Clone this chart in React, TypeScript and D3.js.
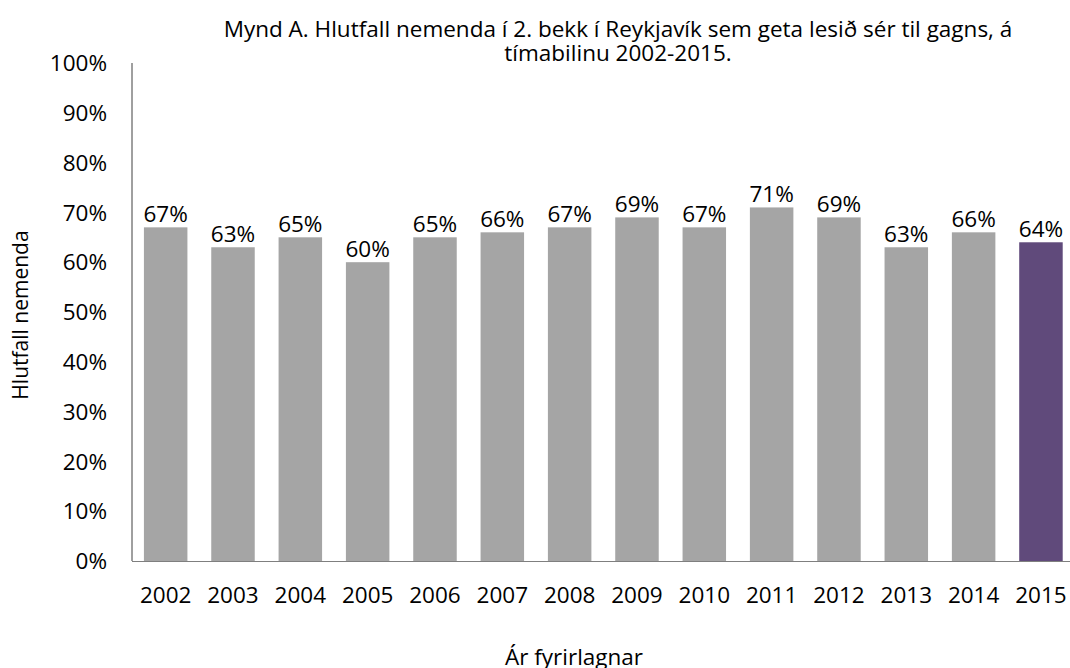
import { useRef, useEffect } from "react";
import * as d3 from "d3";

const years = ["2002", "2003", "2004", "2005", "2006", "2007", "2008", "2009", "2010", "2011", "2012", "2013", "2014", "2015"];
const shares = [67, 63, 65, 60, 65, 66, 67, 69, 67, 71, 69, 63, 66, 64];
const yTicks = [0, 10, 20, 30, 40, 50, 60, 70, 80, 90, 100];
const titleLines = [
  "Mynd A. Hlutfall nemenda í 2. bekk í Reykjavík sem geta lesið sér til gagns, á",
  "tímabilinu 2002-2015.",
];

function App() {
  const svgRef = useRef<SVGSVGElement>(null);

  useEffect(() => {
    const w = 1070;
    const h = 668;
    const font = "'Open Sans', sans-serif";
    const svg = d3.select(svgRef.current).attr("width", w).attr("height", h);
    svg.selectAll("*").remove();

    const left = 132;
    const top = 63;
    const bottom = 561;
    const step = 67.33;

    // scales
    const x = d3
      .scaleBand()
      .domain(years)
      .range([left, left + step * years.length])
      .paddingInner(0.354)
      .paddingOuter(0.177);
    const y = d3.scaleLinear().domain([0, 100]).range([bottom, top]);

    // title
    svg
      .append("g")
      .selectAll("text")
      .data(titleLines)
      .enter()
      .append("text")
      .attr("x", 618)
      .attr("y", (_, i) => 37 + i * 24)
      .attr("text-anchor", "middle")
      .style("font-family", font)
      .style("font-size", "22.5px")
      .attr("fill", "#000")
      .text((d) => d);

    // bars
    svg
      .append("g")
      .selectAll("rect")
      .data(shares)
      .enter()
      .append("rect")
      .attr("x", (_, i) => x(years[i])!)
      .attr("y", (d) => y(d))
      .attr("width", x.bandwidth())
      .attr("height", (d) => bottom - y(d))
      .attr("fill", (_, i) => (i === years.length - 1 ? "#604A7B" : "#A5A5A5"));

    // value labels
    svg
      .append("g")
      .selectAll("text")
      .data(shares)
      .enter()
      .append("text")
      .attr("x", (_, i) => x(years[i])! + x.bandwidth() / 2)
      .attr("y", (d) => y(d) - 5)
      .attr("text-anchor", "middle")
      .style("font-family", font)
      .style("font-size", "22.5px")
      .attr("fill", "#000")
      .text((d) => `${d}%`);

    // axes lines
    svg
      .append("line")
      .attr("x1", left)
      .attr("x2", left)
      .attr("y1", top)
      .attr("y2", bottom)
      .attr("stroke", "#404040")
      .attr("stroke-width", 1);
    svg
      .append("line")
      .attr("x1", left)
      .attr("x2", w)
      .attr("y1", bottom + 0.5)
      .attr("y2", bottom + 0.5)
      .attr("stroke", "#7f7f7f")
      .attr("stroke-width", 1.2);

    // y tick labels
    svg
      .append("g")
      .selectAll("text")
      .data(yTicks)
      .enter()
      .append("text")
      .attr("x", 107)
      .attr("y", (d) => y(d))
      .attr("dy", "0.36em")
      .attr("text-anchor", "end")
      .style("font-family", font)
      .style("font-size", "22.5px")
      .attr("fill", "#000")
      .text((d) => `${d}%`);

    // x tick labels
    svg
      .append("g")
      .selectAll("text")
      .data(years)
      .enter()
      .append("text")
      .attr("x", (d) => x(d)! + x.bandwidth() / 2)
      .attr("y", 603)
      .attr("text-anchor", "middle")
      .style("font-family", font)
      .style("font-size", "22.5px")
      .attr("fill", "#000")
      .text((d) => d);

    // axis titles
    svg
      .append("text")
      .attr("x", 574)
      .attr("y", 665)
      .attr("text-anchor", "middle")
      .style("font-family", font)
      .style("font-size", "22.5px")
      .text("Ár fyrirlagnar");
    svg
      .append("text")
      .attr("transform", "translate(28, 315) rotate(-90)")
      .attr("text-anchor", "middle")
      .style("font-family", font)
      .style("font-size", "21px")
      .text("Hlutfall nemenda");
  }, []);

  return (
    <svg
      ref={svgRef}
      style={{ position: "absolute", left: 0, top: 0, background: "#fff" }}
    ></svg>
  );
}

export default App;
